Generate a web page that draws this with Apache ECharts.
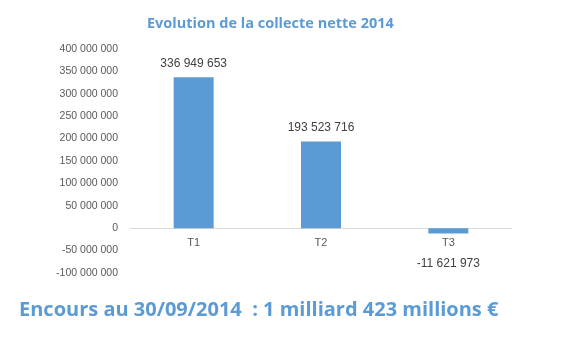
<!DOCTYPE html>
<html><head><meta charset="utf-8">
<script src="https://cdn.jsdelivr.net/npm/echarts@6/dist/echarts.min.js"></script>
<style>html,body{margin:0;padding:0;background:#fff}#c{width:566px;height:338px}</style>
</head><body><div id="c"></div>
<script>
const categories = ['T1', 'T2', 'T3'];
const values = [336949653, 193523716, -11621973];
const yMin = -100000000, yMax = 400000000, yStep = 50000000;
const titleText = 'Evolution de la collecte nette 2014';
const footerText = 'Encours au 30/09/2014  : 1 milliard 423 millions €';

function fmt(v) {
  const s = Math.abs(Math.round(v)).toString().replace(/\B(?=(\d{3})+(?!\d))/g, ' ');
  return (v < 0 ? '-' : '') + s;
}
const gridTop = 49, gridBottom = 65, H = 338;
const plotH = H - gridTop - gridBottom;
const zeroOffset = plotH * (0 - yMin) / (yMax - yMin);
const chart = echarts.init(document.getElementById('c'), null, {renderer: 'canvas'});
chart.setOption({
  animation: false,
  title: [
    {text: titleText, left: 142, top: 11, textStyle: {color: '#5B9BD5', fontFamily: 'Open Sans', fontWeight: 'bold', fontSize: 14.5}},
    {text: footerText, left: 14, top: 295, textStyle: {color: '#5B9BD5', fontFamily: 'Open Sans', fontWeight: 'bold', fontSize: 20}}
  ],
  grid: {left: 130, right: 54, top: gridTop, bottom: gridBottom, containLabel: false},
  xAxis: {
    type: 'category', data: categories, position: 'bottom', offset: -zeroOffset,
    axisLine: {onZero: false, lineStyle: {color: '#D9D9D9'}},
    axisTick: {show: false},
    axisLabel: {color: '#595959', fontFamily: 'Liberation Sans', fontSize: 11, margin: 9}
  },
  yAxis: {
    type: 'value', min: yMin, max: yMax, interval: yStep,
    splitLine: {show: false},
    axisLine: {show: false}, axisTick: {show: false},
    axisLabel: {color: '#595959', fontFamily: 'Liberation Sans', fontSize: 10.5, margin: 12, formatter: fmt}
  },
  series: [{
    type: 'bar', barWidth: 40,
    data: values.map(v => v < 0 ? {value: v, label: {position: 'bottom', distance: 24}} : v),
    itemStyle: {color: '#5B9BD5'},
    label: {show: true, position: 'top', distance: 8, color: '#404040', fontFamily: 'Liberation Sans', fontSize: 12,
      formatter: p => fmt(p.value)}
  }]
});
</script></body></html>
